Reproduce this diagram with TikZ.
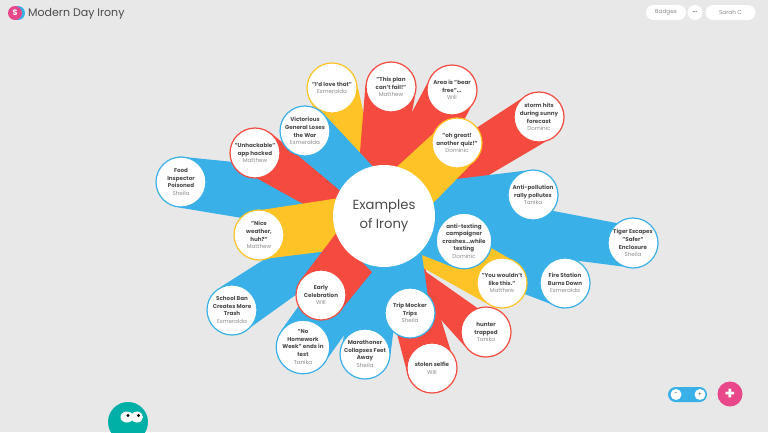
\documentclass[tikz,border=0pt]{standalone}
\usepackage{fontspec}
\setmainfont{Poppins}
\usetikzlibrary{backgrounds}
\definecolor{bandred}{HTML}{F44A3F}
\definecolor{bandyellow}{HTML}{FEC326}
\definecolor{bandblue}{HTML}{3AB0E8}
\definecolor{pagegrey}{HTML}{E8E8E8}
\definecolor{inkgrey}{HTML}{4A4A4A}
\definecolor{whogrey}{HTML}{8C8C8C}
\definecolor{pinkbtn}{HTML}{E8488A}
\definecolor{blobteal}{HTML}{00B0A6}
\tikzset{
  idea/.style ={circle,draw=#1,line width=1.2pt,fill=white,minimum size=50pt,inner sep=0pt,
                align=center,text=inkgrey,font=\fontsize{5.6}{7.6}\selectfont\bfseries},
  hubnode/.style={circle,fill=white,minimum size=102pt,inner sep=0pt,align=center,
                text=inkgrey,font=\fontsize{13.2}{19}\selectfont},
  pill/.style ={rounded corners=7.5pt,fill=white,minimum height=15pt,inner sep=0pt,
                text=whogrey,font=\fontsize{5.7}{6}\selectfont},
  knob/.style ={circle,fill=white,minimum size=11pt,inner sep=0pt,text=inkgrey,
                font=\fontsize{6}{6}\selectfont},
}
\newcommand{\who}[1]{\\{\mdseries\color{whogrey}#1}}
\begin{document}
\begin{tikzpicture}[x=1pt,y=-1pt]
  \useasboundingbox (0,0) rectangle (768,432);
  % the hub and its ideas
  \node[hubnode] (hub) at (384,216) {\raisebox{-2pt}{Examples}\\\raisebox{-2pt}{of Irony}};
  \foreach \name/\xx/\yy/\col/\txt in {
    love/332/88/bandyellow/{"I'd love that"\who{Esmeralda}},
    plan/391/87/bandred/{"This plan\\can't fail!"\who{Matthew}},
    area/452/90/bandred/{Area is "bear\\free"...\who{Will}},
    ohgreat/457/143/bandyellow/{"oh great!\\another quiz!"\who{Dominic}},
    storm/539/117/bandred/{storm hits\\during sunny\\forecast\who{Dominic}},
    victor/305/131/bandblue/{Victorious\\General Loses\\the War\who{Esmeralda}},
    unhack/255/153/bandred/{"Unhackable"\\app hacked\who{Matthew}},
    food/181/182/bandblue/{Food\\Inspector\\Poisoned\who{Sheila}},
    nice/259/235/bandyellow/{"Nice\\weather,\\huh?"\who{Matthew}},
    antipoll/533/195/bandblue/{Anti-pollution\\rally pollutes\who{Tanika}},
    antitext/464/241/bandblue/{anti-texting\\campaigner\\crashes...while\\texting\who{Dominic}},
    tiger/633/243/bandblue/{Tiger Escapes\\"Safer"\\Enclosure\who{Sheila}},
    you/502/283/bandyellow/{"You wouldn't\\like this."\who{Matthew}},
    fire/565/283/bandblue/{Fire Station\\Burns Down\who{Esmeralda}},
    hunter/486/332/bandred/{hunter\\trapped\who{Tanika}},
    stolen/432/368/bandred/{stolen selfie\who{Will}},
    trip/410/313/bandblue/{Trip Mocker\\Trips\who{Sheila}},
    mara/365/354/bandblue/{Marathoner\\Collapses Feet\\Away\who{Sheila}},
    home/303/347/bandblue/{"No\\Homework\\Week" ends in\\test\who{Tanika}},
    early/321/295/bandred/{Early\\Celebration\who{Will}},
    school/232/310/bandblue/{School Ban\\Creates More\\Trash\who{Esmeralda}}}
    \node[idea=\col] (\name) at (\xx,\yy) {\txt};
  \coordinate (firetip) at (422,255);
  \coordinate (earlytip) at (372,272);
  % the bands, bottom one first; all of them end under the hub
  \begin{scope}[on background layer]
    \fill[pagegrey] (0,0) rectangle (768,432);
    \foreach \col/\nm/\a/\p/\m/\q/\b in {
      bandyellow/love/5/hub.100/hub.center/hub.130/202,
      bandred/plan/175/hub.120/hub.center/hub.70/340,
      bandred/area/165/hub.90/hub.center/hub.30/316,
      bandred/storm/135/hub.60/hub.center/hub.10/284,
      bandblue/antipoll/108/hub.40/hub.center/hub.350/260,
      bandblue/tiger/129/hub.35/hub.center/hub.330/247,
      bandblue/fire/100/hub.340/hub.center/firetip/265,
      bandred/hunter/110/hub.300/hub.center/hub.280/213,
      bandred/stolen/351/hub.315/hub.center/hub.265/205,
      bandyellow/you/48/hub.0/hub.center/hub.300/232,
      bandblue/antitext/110/hub.10/hub.center/firetip/250,
      bandblue/trip/330/firetip/hub.center/hub.250/170,
      bandyellow/ohgreat/158/hub.75/hub.center/hub.15/303,
      bandblue/victor/36/hub.103/hub.center/hub.160/228,
      bandblue/food/95/hub.125/hub.center/hub.200/265,
      bandred/unhack/51/hub.150/hub.center/hub.185/275,
      bandblue/school/118/hub.180/hub.center/hub.230/319,
      bandyellow/nice/81/hub.160/hub.center/hub.220/295,
      bandblue/home/143/hub.215/hub.center/hub.280/338,
      bandblue/mara/150/hub.240/hub.center/hub.290/0,
      bandred/early/134/hub.200/hub.245/earlytip/333}
      \fill[\col] (\nm.\a) -- (\p) -- (\m) -- (\q) -- (\nm.\b) -- cycle;
  \end{scope}
  % top bar
  \fill[bandblue] (18,13) circle (7);
  \node[circle,fill=pinkbtn,minimum size=14pt,inner sep=0pt,text=white,
        font=\fontsize{8}{8}\selectfont\bfseries] (logo) at (15,13) {S};
  \node[right,inner sep=0pt,text=inkgrey,font=\fontsize{11}{14}\selectfont] (title) at (28,14) {Modern Day Irony};
  \node[pill,minimum width=40pt] (badges) at (666,12.5) {\raisebox{-.6pt}{Badges}};
  \node[circle,fill=white,minimum size=15pt,inner sep=0pt,text=inkgrey,font=\fontsize{4}{4}\selectfont] (dots) at (695,12.5) {•••};
  \node[pill,minimum width=50pt] (sarah) at (730.5,12.5) {\raisebox{-.6pt}{Sarah C}};
  % zoom control and add button
  \node[fill=bandblue,rounded corners=7.5pt,minimum width=39pt,minimum height=15pt,inner sep=0pt] (zoompill) at (687.5,394.5) {};
  \node[knob] (minus) at (676,394.5) {\raisebox{-.5pt}{-}};
  \node[knob] (plus) at (700,394.5) {\raisebox{-.5pt}{+}};
  \node[circle,fill=pinkbtn,minimum size=25pt,inner sep=0pt,text=white,font=\fontsize{17}{17}\selectfont\bfseries] (addbtn) at (730,394) {\raisebox{-1.5pt}{+}};
  % the blob, cut off by the page
  \begin{scope}
    \clip (0,0) rectangle (768,432);
    \fill[blobteal] (128,422) circle (20);
    \fill[white] (127,417) ellipse (6.5 and 5.5) (137,417) ellipse (6 and 5.5);
    \fill[black] (128,415.5) circle (1.6) (138.5,415.5) circle (1.6);
  \end{scope}
\end{tikzpicture}
\end{document}
